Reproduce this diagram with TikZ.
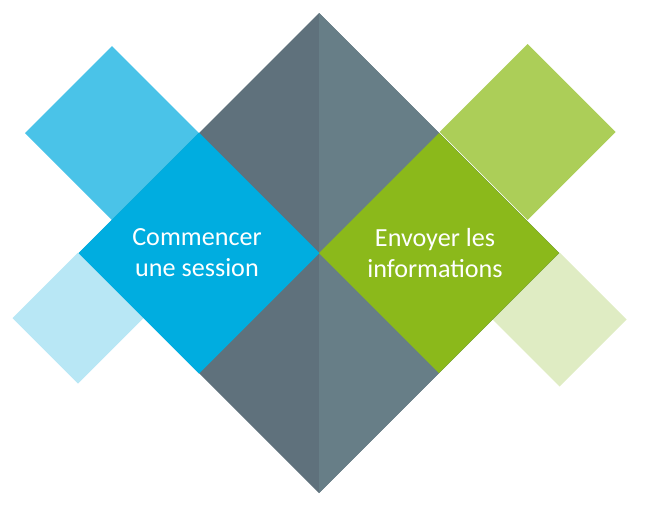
\documentclass[tikz,border=0pt]{standalone}
\usepackage{fontspec}
\setmainfont{Carlito}
\usepackage{tikz}
\usetikzlibrary{shapes.geometric}

\definecolor{bluemain}{HTML}{00ADE0}
\definecolor{bluemid}{HTML}{4AC3E8}
\definecolor{bluepale}{HTML}{B8E7F5}
\definecolor{greenmain}{HTML}{8BB91B}
\definecolor{greenmid}{HTML}{ACCE58}
\definecolor{greenpale}{HTML}{DFECC3}
\definecolor{slateleft}{HTML}{5F717C}
\definecolor{slateright}{HTML}{677E87}

\begin{document}
\begin{tikzpicture}[x=0.75pt, y=-0.75pt,
  every node/.style={diamond, aspect=1, inner sep=0pt, outer sep=0pt, draw=none},
  label text/.style={text=white, align=center, font=\fontsize{19.6}{23.4}\selectfont}]
  \useasboundingbox (0,0) rectangle (653,507);
  \node (tl) [fill=bluemid, minimum size=130.5pt] at (112,133) {};
  \node (bl) [fill=bluepale, minimum size=98.25pt] at (78,318) {};
  \node (tr) [fill=greenmid, minimum size=132pt] at (527.5,132) {};
  \node (br) [fill=greenpale, minimum size=100.5pt] at (559.5,319.5) {};
  \node (mid) [fill=slateleft, minimum size=360pt] at (319,253) {};
  \fill[slateright] (mid.north) -- (mid.east) -- (mid.south) -- cycle;
  \node (start) [fill=bluemain, minimum size=180.75pt] at (199,253) {};
  \node (send) [fill=greenmain, minimum size=180pt] at (439,253) {};
  \node (startlabel) [label text, rectangle] at (197,253) {Commencer\\une session};
  \node (sendlabel) [label text, rectangle] at (435,253) {Envoyer les\\informations};
\end{tikzpicture}
\end{document}
